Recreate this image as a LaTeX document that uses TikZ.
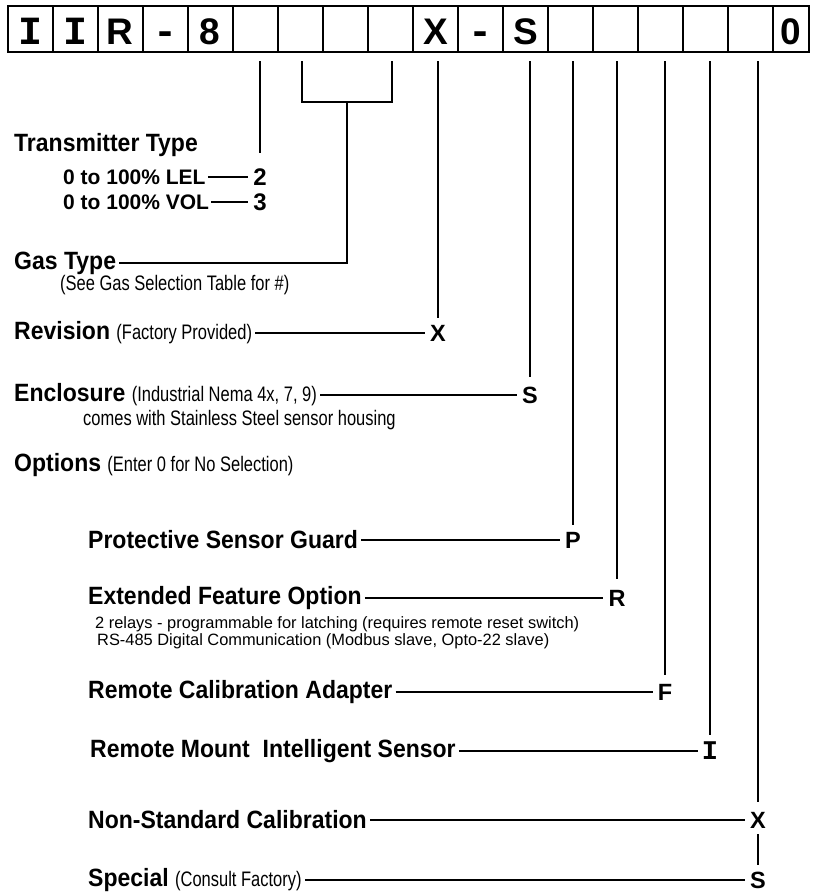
\documentclass[tikz,border=0pt]{standalone}
\usepackage{fontspec}
\setmainfont{Liberation Sans}
\newfontfamily\condfont[FakeStretch=0.785]{Liberation Sans}
\newfontfamily\hdfont[FakeStretch=0.92]{Liberation Sans}
\newfontfamily\monofont{Liberation Mono}
\newcommand\subtxt{\condfont\mdseries\fontsize{21}{23}\selectfont}
\newcommand\mI{{\monofont\bfseries\fontsize{40}{44}\selectfont I}}
\newcommand\mD{{\monofont\bfseries\fontsize{40}{44}\selectfont -}}
\begin{document}
\begin{tikzpicture}[x=1pt,y=-1pt,
  cell/.style={draw, line width=2pt, minimum width=45.05pt, minimum height=46pt,
    inner sep=0pt, text height=31pt, text depth=0pt,
    font=\fontsize{37}{40}\selectfont\bfseries},
  hd/.style={font=\hdfont\bfseries\fontsize{25}{28}\selectfont, inner sep=3pt},
  md/.style={font=\fontsize{21}{25}\selectfont\bfseries, inner sep=2pt},
  num/.style={font=\fontsize{24}{27}\selectfont\bfseries, inner sep=2pt},
  sm/.style={font=\subtxt, inner sep=0pt},
  rg/.style={font=\fontsize{16.4}{18}\selectfont, inner sep=0pt},
  let/.style={font=\fontsize{23.5}{27}\selectfont\bfseries, inner sep=0pt},
  letm/.style={font=\monofont\fontsize{27}{30}\selectfont\bfseries, inner sep=0pt},
  lead/.style={line width=1.7pt}
]
\useasboundingbox[fill=white] (0,0) rectangle (812,892);

% code boxes
\foreach \i/\t in {1/\mI,2/\mI,3/R,4/\mD,5/8,6/,7/,8/,9/,10/X,11/\mD,12/S,13/,14/,15/,16/,17/}
  \node[cell] (c\i) at ({7.5+45.05*(\i-0.5)},29) {\t};
\node[cell, minimum width=35.65pt] (c18) at (791.2,29) {0};

% column tops
\coordinate (k6) at (260,61);
\coordinate (k7) at (302,61);
\coordinate (k9) at (392,61);
\coordinate (km) at (347,102);
\coordinate (k10) at (438,61);
\coordinate (k12) at (530,61);
\coordinate (k13) at (573,61);
\coordinate (k14) at (617,61);
\coordinate (k15) at (665,61);
\coordinate (k16) at (710,61);
\coordinate (k17) at (758,61);

% texts
\node[hd, anchor=west] (tt) at (11,145) {Transmitter Type};
\node[md, anchor=west] (lel) at (61,177) {0 to 100\% LEL};
\node[num] (n2) at (260,177) {2};
\node[md, anchor=west] (vol) at (61,202) {0 to 100\% VOL};
\node[num] (n3) at (260,202) {3};
\node[hd, anchor=west] (gas) at (11,263) {Gas Type};
\node[sm, anchor=west] (seegas) at (60,285) {(See Gas Selection Table for \#)};
\node[hd, anchor=west] (rev) at (11,333) {Revision \subtxt(Factory Provided)};
\node[let] (lx) at (438,333) {X};
\node[hd, anchor=west] (enc) at (11,395) {Enclosure \subtxt(Industrial Nema 4x, 7, 9)};
\node[let] (ls) at (530,395) {S};
\node[sm, anchor=west] (comes) at (83,420) {comes with Stainless Steel sensor housing};
\node[hd, anchor=west] (opt) at (11,465) {Options \subtxt(Enter 0 for No Selection)};
\node[hd, anchor=west] (psg) at (85,540) {Protective Sensor Guard};
\node[let] (lp) at (573,540) {P};
\node[hd, anchor=west] (efo) at (85,598) {Extended Feature Option};
\node[let] (lr) at (617,598) {R};
\node[rg, anchor=west] (rel) at (95,624) {2 relays - programmable for latching (requires remote reset switch)};
\node[rg, anchor=west] (rs) at (97,641) {RS-485 Digital Communication (Modbus slave, Opto-22 slave)};
\node[hd, anchor=west] (rca) at (85,692) {Remote Calibration Adapter};
\node[let] (lf) at (665,692) {F};
\node[hd, anchor=west] (rmi) at (87,751) {Remote Mount\ \ Intelligent Sensor};
\node[letm] (li) at (710,751) {I};
\node[hd, anchor=west] (nsc) at (85,820) {Non-Standard Calibration};
\node[let] (lx2) at (758,820) {X};
\node[hd, anchor=west] (spc) at (85,880) {Special \subtxt(Consult Factory)};
\node[let] (ls2) at (758,880) {S};

% connectors
\draw[lead] (k6) -- (k6 |- n2.north) [shorten >=13pt];
\draw[lead, shorten >=3pt] (lel.east) -- (n2.west);
\draw[lead, shorten >=3pt] (vol.east) -- (n3.west);
\draw[lead] (k7) -- (k7 |- km) -- (k9 |- km) -- (k9);
\draw[lead] (km) |- (gas.east);
\draw[lead, shorten >=7pt] (k10) -- (lx.north);
\draw[lead, shorten >=5pt] (rev.east) -- (lx.west);
\draw[lead, shorten >=9pt] (k12) -- (ls.north);
\draw[lead, shorten >=5pt] (enc.east) -- (ls.west);
\draw[lead, shorten >=7pt] (k13) -- (lp.north);
\draw[lead, shorten >=5pt] (psg.east) -- (lp.west);
\draw[lead, shorten >=11pt] (k14) -- (lr.north);
\draw[lead, shorten >=5pt] (efo.east) -- (lr.west);
\draw[lead, shorten >=9pt] (k15) -- (lf.north);
\draw[lead, shorten >=5pt] (rca.east) -- (lf.west);
\draw[lead, shorten >=7pt] (k16) -- (li.north);
\draw[lead, shorten >=4pt] (rmi.east) -- (li.west);
\draw[lead, shorten >=10pt] (k17) -- (lx2.north);
\draw[lead, shorten >=5pt] (nsc.east) -- (lx2.west);
\draw[lead, shorten <=6pt, shorten >=6pt] (lx2.south) -- (ls2.north);
\draw[lead, shorten >=5pt] (spc.east) -- (ls2.west);
\end{tikzpicture}
\end{document}
